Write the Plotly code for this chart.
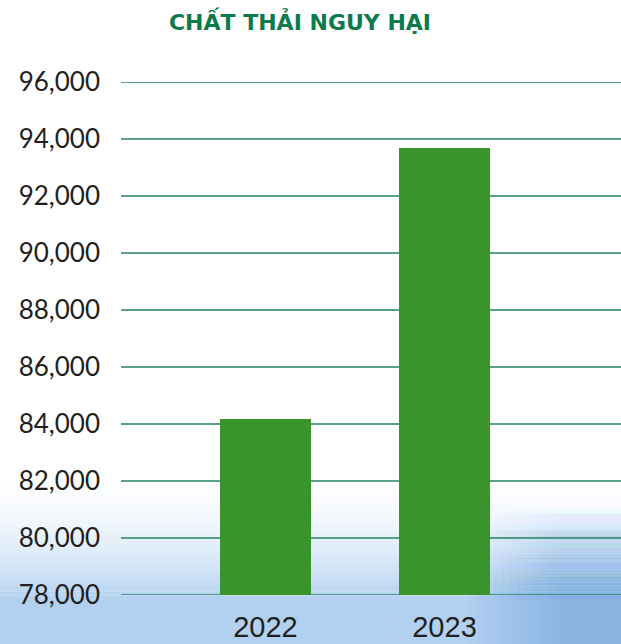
import plotly.graph_objects as go

years = ["2022", "2023"]
values = [84180, 93690]
tick_vals = [78000, 80000, 82000, 84000, 86000, 88000, 90000, 92000, 94000, 96000]
tick_text = ["78,000", "80,000", "82,000", "84,000", "86,000", "88,000", "90,000", "92,000", "94,000", "96,000"]
title_text = "CHẤT THẢI NGUY HẠI"

W, H = 621, 644
ML, MR, MT, MB = 121, 0, 82, 49
PH = H - MT - MB
PW = W - ML - MR

fig = go.Figure()
fig.add_trace(go.Bar(
    x=[0, 1], y=values, width=0.508, base=0,
    marker=dict(color="#3a942c", line=dict(width=0)),
    hoverinfo="skip",
))

def py2paper(p):
    return (H - MB - p) / PH

def px2paper(p):
    return (p - ML) / PW

# soft sky-blue background at the bottom (decoration)
shapes = []
n = 30
top_px, full_px = 470, 600
for i in range(n):
    y0p = top_px + (full_px - top_px) * i / n
    y1p = top_px + (full_px - top_px) * (i + 1) / n
    t = (i + 0.5) / n
    a = min(1.0, t ** 1.8)
    shapes.append(dict(
        type="rect", xref="paper", yref="paper", layer="below",
        x0=px2paper(0), x1=1.0, y0=py2paper(y1p), y1=py2paper(y0p),
        line=dict(width=0), fillcolor=f"rgba(170,204,238,{a*0.9:.3f})",
    ))
shapes.append(dict(
    type="rect", xref="paper", yref="paper", layer="below",
    x0=px2paper(0), x1=1.0, y0=py2paper(H), y1=py2paper(full_px),
    line=dict(width=0), fillcolor="rgba(170,204,238,0.9)",
))
# darker patch at lower right, soft on both edges
m = 12
for j in range(m):
    xs = 470 + j * 8
    for i in range(n):
        y0p = 505 + (full_px - 505) * i / n
        y1p = 505 + (full_px - 505) * (i + 1) / n
        t = (i + 0.5) / n
        a = min(1.0, t ** 1.1) * 0.06
        shapes.append(dict(
            type="rect", xref="paper", yref="paper", layer="below",
            x0=px2paper(xs), x1=1.0, y0=py2paper(y1p), y1=py2paper(y0p),
            line=dict(width=0), fillcolor=f"rgba(95,155,218,{a:.3f})",
        ))
    shapes.append(dict(
        type="rect", xref="paper", yref="paper", layer="below",
        x0=px2paper(xs), x1=1.0, y0=py2paper(H), y1=py2paper(full_px),
        line=dict(width=0), fillcolor="rgba(95,155,218,0.035)",
    ))

fig.update_layout(
    width=W, height=H,
    margin=dict(l=ML, r=MR, t=MT, b=MB, pad=0),
    paper_bgcolor="white", plot_bgcolor="rgba(0,0,0,0)",
    showlegend=False, bargap=0,
    shapes=shapes,
    title=dict(text=f"<b>{title_text}</b>", x=300 / W, xanchor="center",
               y=1 - 22 / H, yanchor="middle",
               font=dict(family="DejaVu Sans", size=22, color="#0d7a4c")),
    xaxis=dict(range=[-0.807, 1.986], tickvals=[0, 1], ticktext=years,
               showgrid=False, zeroline=False, showline=False, ticks="",
               tickfont=dict(family="Liberation Sans", size=29, color="#231f20"),
               ticklabelstandoff=12),
    yaxis=dict(range=[78000, 96000], tickvals=tick_vals, ticktext=tick_text,
               showgrid=False, zeroline=False, showline=False, ticks="",
               tickfont=dict(family="Lato", size=26, color="#231f20"),
               ticklabelstandoff=20),
)
for v in tick_vals:
    fig.add_hline(y=v, line=dict(color="#23825f", width=1.4), layer="below")

fig.write_html("out.html", config={"displayModeBar": False},
               post_script="document.body.style.margin='0';document.body.style.overflow='hidden';window.dispatchEvent(new Event('resize'));")
